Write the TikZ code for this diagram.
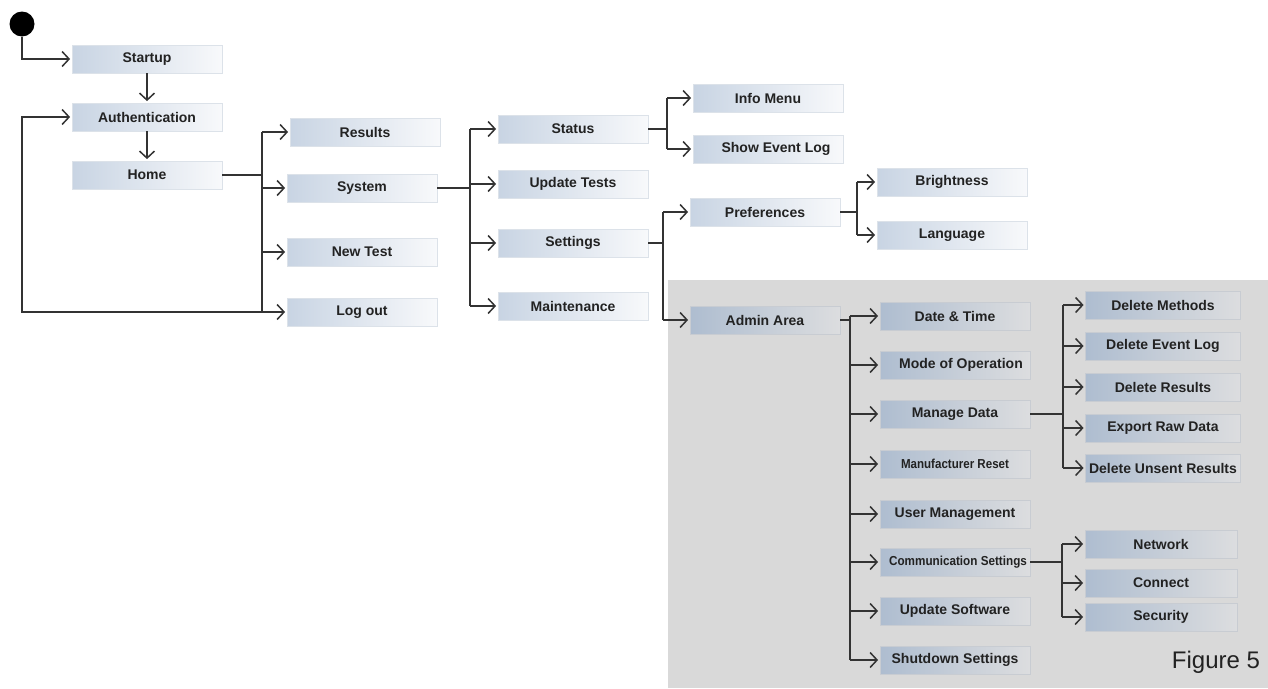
\documentclass[tikz,border=0pt]{standalone}
\usepackage{fontspec}
\usepackage{graphicx}
\setmainfont{Liberation Sans}
\usetikzlibrary{arrows.meta}
\definecolor{lineC}{HTML}{333333}
\definecolor{boxL}{HTML}{C8D4E3}
\definecolor{boxR}{HTML}{F8F9FB}
\definecolor{boxB}{HTML}{DCE2E9}
\definecolor{admL}{HTML}{AEBDD0}
\definecolor{admR}{HTML}{DCDDDF}
\definecolor{admB}{HTML}{C8CCD2}
\definecolor{bgGray}{HTML}{D9D9D9}
\definecolor{txt}{HTML}{222222}
\begin{document}
\begin{tikzpicture}[x=1pt,y=-1pt,
 box/.style={draw=boxB, line width=0.8pt, left color=boxL, right color=boxR, minimum width=150pt, minimum height=28pt, inner sep=0pt, font=\fontsize{14}{16}\selectfont\bfseries, text=txt},
 abox/.style={box, draw=admB, left color=admL, right color=admR},
 line/.style={draw=lineC, line width=1.8pt},
 arr/.style={line, shorten >=1.5pt, -{Straight Barb[length=7pt,width=15pt,line width=1.5pt]}}
]
\useasboundingbox (0,0) rectangle (1268,688);
\fill[bgGray] (668,280) rectangle (1268,688);

% start
\node[circle, fill=black, minimum size=25pt, inner sep=0pt] (start) at (22,24) {};

% column 1
\node[box] (startup) at (147,59) {Startup};
\node[box] (auth) at (147,117) {Authentication};
\node[box] (home) at (147,175) {Home};

% column 2
\node[box] (results) at (365,132) {Results};
\node[box] (system) at (362,188) {System};
\node[box] (newtest) at (362,252) {New Test};
\node[box] (logout) at (362,312) {Log out};

% column 3
\node[box] (status) at (573,129) {Status};
\node[box] (updtests) at (573,184) {Update Tests};
\node[box] (settings) at (573,243) {Settings};
\node[box] (maint) at (573,306) {Maintenance};

% column 4
\node[box] (info) at (768,98) {Info Menu};
\node[box] (eventlog) at (768,149) {\hspace{16pt}Show Event Log};
\node[box] (prefs) at (765,212) {Preferences};
\node[abox] (admin) at (765,320) {Admin Area};

% column 5
\node[box] (bright) at (952,182) {Brightness};
\node[box] (lang) at (952,235) {Language};
\node[abox] (datetime) at (955,316) {Date \& Time};
\node[abox] (mode) at (955,365) {\hspace{12pt}Mode of Operation};
\node[abox] (manage) at (955,414) {Manage Data};
\node[abox] (manuf) at (955,464) {\scalebox{0.89}[1]{\fontsize{13}{15}\selectfont Manufacturer Reset}};
\node[abox] (usermgmt) at (955,514) {User Management};
\node[abox] (comm) at (955,562) {\hspace{6pt}\scalebox{0.9}[1]{\fontsize{13}{15}\selectfont Communication Settings}};
\node[abox] (updsw) at (955,611) {Update Software};
\node[abox] (shutdown) at (955,660) {Shutdown Settings};

% column 6
\node[abox, minimum width=155pt] (delmeth) at (1163,305) {Delete Methods};
\node[abox, minimum width=155pt] (delevent) at (1163,346) {Delete Event Log};
\node[abox, minimum width=155pt] (delres) at (1163,387) {Delete Results};
\node[abox, minimum width=155pt] (export) at (1163,428) {Export Raw Data};
\node[abox, minimum width=155pt] (delunsent) at (1163,468) {Delete Unsent Results};
\node[abox, minimum width=152pt] (network) at (1161,544) {Network};
\node[abox, minimum width=152pt] (connect) at (1161,583) {Connect};
\node[abox, minimum width=152pt] (security) at (1161,617) {Security};

\node[font=\fontsize{24}{28}\selectfont, text=txt] (fig) at (1216,662) {Figure 5};

% bus coordinates
\coordinate (hb) at (262,175);
\coordinate (sb) at (470,188);
\coordinate (stb) at (667,129);
\coordinate (seb) at (663,243);
\coordinate (pb) at (857,212);
\coordinate (ab) at (850,320);
\coordinate (mb) at (1063,414);
\coordinate (cb) at (1062,562);
\coordinate (loopc) at (22,312);

% connectors
\draw[arr] (start.south) |- (startup.west);
\draw[arr] (startup.south) -- (auth.north);
\draw[arr] (auth.south) -- (home.north);

\draw[line] (home.east) -- (hb);
\draw[line] (hb |- results.west) -- (hb |- logout.west);
\foreach \n in {results,system,newtest,logout}
  \draw[arr] (hb |- \n.west) -- (\n.west);
\draw[arr] (hb |- logout.west) -- (loopc) |- (auth.west);

\draw[line] (system.east) -- (sb);
\draw[line] (sb |- status.west) -- (sb |- maint.west);
\foreach \n in {status,updtests,settings,maint}
  \draw[arr] (sb |- \n.west) -- (\n.west);

\draw[line] (status.east) -- (stb);
\draw[line] (stb |- info.west) -- (stb |- eventlog.west);
\foreach \n in {info,eventlog}
  \draw[arr] (stb |- \n.west) -- (\n.west);

\draw[line] (settings.east) -- (seb);
\draw[line] (seb |- prefs.west) -- (seb |- admin.west);
\foreach \n in {prefs,admin}
  \draw[arr] (seb |- \n.west) -- (\n.west);

\draw[line] (prefs.east) -- (pb);
\draw[line] (pb |- bright.west) -- (pb |- lang.west);
\foreach \n in {bright,lang}
  \draw[arr] (pb |- \n.west) -- (\n.west);

\draw[line] (admin.east) -- (ab);
\draw[line] (ab |- datetime.west) -- (ab |- shutdown.west);
\foreach \n in {datetime,mode,manage,manuf,usermgmt,comm,updsw,shutdown}
  \draw[arr] (ab |- \n.west) -- (\n.west);

\draw[line] (manage.east) -- (mb);
\draw[line] (mb |- delmeth.west) -- (mb |- delunsent.west);
\foreach \n in {delmeth,delevent,delres,export,delunsent}
  \draw[arr] (mb |- \n.west) -- (\n.west);

\draw[line] (comm.east) -- (cb);
\draw[line] (cb |- network.west) -- (cb |- security.west);
\foreach \n in {network,connect,security}
  \draw[arr] (cb |- \n.west) -- (\n.west);
\end{tikzpicture}
\end{document}
